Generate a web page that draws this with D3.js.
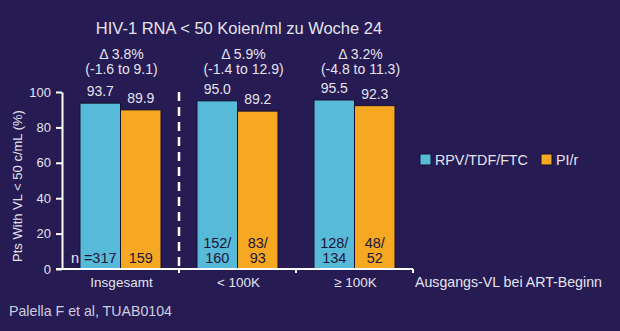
<!DOCTYPE html>
<html>
<head>
<meta charset="utf-8">
<script src="https://cdn.jsdelivr.net/npm/d3@7"></script>
<style>
  html, body { margin: 0; padding: 0; background: #261b52; }
  svg { display: block; font-family: "Liberation Sans", Arial, sans-serif; }
</style>
</head>
<body>
<div id="visual"></div>
<script>
// data
const groups = ["Insgesamt", "< 100K", "≥ 100K"];
const series = ["RPV/TDF/FTC", "PI/r"];
const rpvValues = [93.7, 95.0, 95.5];
const pirValues = [89.9, 89.2, 92.3];
const rpvN = [["=317"], ["152/", "160"], ["128/", "134"]];
const pirN = [["159"], ["83/", "93"], ["48/", "52"]];
const deltas = ["Δ 3.8%", "Δ 5.9%", "Δ 3.2%"];
const cis = ["(-1.6 to 9.1)", "(-1.4 to 12.9)", "(-4.8 to 11.3)"];
const yTicks = [0, 20, 40, 60, 80, 100];

const W = 620, H = 331;
const colors = { "RPV/TDF/FTC": "#58bad9", "PI/r": "#f6a823" };
const textCol = "#e4e3ee";

const svg = d3.select("#visual").append("svg")
  .attr("width", W).attr("height", H);

svg.append("rect").attr("width", W).attr("height", H).attr("fill", "#261b52");

const x0 = d3.scaleBand().domain(groups).range([62, 413]).padding(0);
const x1 = d3.scaleBand().domain(series).range([18, x0.bandwidth() - 18]).padding(0);
const y = d3.scaleLinear().domain([0, 100]).range([269, 92]);

// title
svg.append("text")
  .attr("x", 239).attr("y", 34)
  .attr("text-anchor", "middle")
  .attr("fill", textCol)
  .attr("font-size", 16.5)
  .text("HIV-1 RNA < 50 Koien/ml zu Woche 24");

// rows of bars
const rows = groups.map((g, i) => ({
  group: g,
  vals: [
    { s: series[0], v: rpvValues[i], n: rpvN[i] },
    { s: series[1], v: pirValues[i], n: pirN[i] }
  ]
}));

const gGroup = svg.selectAll(".grp")
  .data(rows)
  .enter().append("g")
  .attr("class", "grp")
  .attr("transform", d => `translate(${x0(d.group)},0)`);

gGroup.selectAll("rect")
  .data(d => d.vals)
  .enter().append("rect")
  .attr("x", d => x1(d.s))
  .attr("y", d => y(d.v))
  .attr("width", x1.bandwidth())
  .attr("height", d => y(0) - y(d.v))
  .attr("fill", d => colors[d.s])
  .attr("stroke", "#15102e")
  .attr("stroke-width", 1);

// values above bars
gGroup.selectAll(".val")
  .data(d => d.vals)
  .enter().append("text")
  .attr("class", "val")
  .attr("x", d => x1(d.s) + x1.bandwidth() / 2)
  .attr("y", d => y(d.v) - 7)
  .attr("text-anchor", "middle")
  .attr("fill", textCol)
  .attr("font-size", 14)
  .text(d => d.v.toFixed(1));

// n counts inside bars
gGroup.selectAll(".nlab")
  .data(d => d.vals)
  .enter().append("text")
  .attr("class", "nlab")
  .attr("text-anchor", "middle")
  .attr("fill", "#1c1638")
  .attr("font-size", 14.5)
  .each(function(d) {
    const t = d3.select(this);
    const cx = x1(d.s) + x1.bandwidth() / 2;
    if (d.n.length === 1) {
      t.attr("x", cx).attr("y", y(0) - 6).text(d.n[0]);
    } else {
      d.n.forEach((line, k) => {
        t.append("tspan").attr("x", cx).attr("y", y(0) - 21 + k * 15).text(line);
      });
    }
  });

// the "n" prefix sits left of the first bar, on the dark background
svg.append("text")
  .attr("x", x0(groups[0]) + x1(series[0]) - 1)
  .attr("y", y(0) - 6)
  .attr("text-anchor", "end")
  .attr("fill", textCol)
  .attr("font-size", 14.5)
  .text("n");

// delta annotations
gGroup.append("text")
  .attr("x", (d, i) => x0.bandwidth() / 2 + (i ? 6 : 1))
  .attr("y", 59)
  .attr("text-anchor", "middle")
  .attr("fill", textCol)
  .attr("font-size", 14)
  .text((d, i) => deltas[i]);

gGroup.append("text")
  .attr("x", (d, i) => x0.bandwidth() / 2 + (i ? 6 : 1))
  .attr("y", 74)
  .attr("text-anchor", "middle")
  .attr("fill", textCol)
  .attr("font-size", 14)
  .text((d, i) => cis[i]);

// y axis
const yAxis = svg.append("g")
  .attr("transform", `translate(62,0)`)
  .call(d3.axisLeft(y).tickValues(yTicks).tickSize(6).tickSizeOuter(0).tickPadding(5));
yAxis.select(".domain").attr("stroke", "#fff").attr("stroke-width", 2);
yAxis.selectAll(".tick line").attr("stroke", "#fff").attr("stroke-width", 2);
yAxis.selectAll(".tick text")
  .attr("fill", textCol)
  .attr("font-size", 13)
  .attr("font-family", "Liberation Sans, Arial, sans-serif");

svg.append("text")
  .attr("transform", "translate(22,186) rotate(-90)")
  .attr("text-anchor", "middle")
  .attr("fill", textCol)
  .attr("font-size", 13)
  .text("Pts With VL < 50 c/mL (%)");

// x axis
const xAxis = svg.append("g")
  .attr("transform", `translate(0,${y(0)})`);
xAxis.append("line")
  .attr("x1", 56).attr("x2", x0.range()[1])
  .attr("stroke", "#fff").attr("stroke-width", 2);
xAxis.selectAll(".sep")
  .data(groups.slice(1).map(g => x0(g)).concat([x0.range()[1]]))
  .enter().append("line")
  .attr("x1", d => d).attr("x2", d => d)
  .attr("y1", 0).attr("y2", 4)
  .attr("stroke", "#fff").attr("stroke-width", 2);
xAxis.selectAll(".xl")
  .data(groups)
  .enter().append("text")
  .attr("x", d => x0(d) + x0.bandwidth() / 2 + 1)
  .attr("y", 18)
  .attr("text-anchor", "middle")
  .attr("fill", textCol)
  .attr("font-size", 13.5)
  .text(d => d);
xAxis.append("text")
  .attr("x", 415).attr("y", 18)
  .attr("fill", textCol)
  .attr("font-size", 14.2)
  .text("Ausgangs-VL bei ART-Beginn");

// dashed divider between total and subgroups
svg.append("line")
  .attr("x1", x0(groups[1])).attr("x2", x0(groups[1]))
  .attr("y1", y(100)).attr("y2", y(0))
  .attr("stroke", "#fff").attr("stroke-width", 2.5)
  .attr("stroke-dasharray", "9,6");

// legend
const legend = svg.append("g").attr("transform", "translate(420,154)");
const legX = [0, 121];
series.forEach((s, i) => {
  legend.append("rect")
    .attr("x", legX[i]).attr("y", 0)
    .attr("width", 11).attr("height", 11)
    .attr("fill", colors[s])
    .attr("stroke", "#15102e");
  legend.append("text")
    .attr("x", legX[i] + 15).attr("y", 11)
    .attr("fill", textCol)
    .attr("font-size", 14.3)
    .text(s);
});

// source
svg.append("text")
  .attr("x", 9).attr("y", 316)
  .attr("fill", "#cfcde0")
  .attr("font-size", 14.2)
  .text("Palella F et al, TUAB0104");
</script>
</body>
</html>
